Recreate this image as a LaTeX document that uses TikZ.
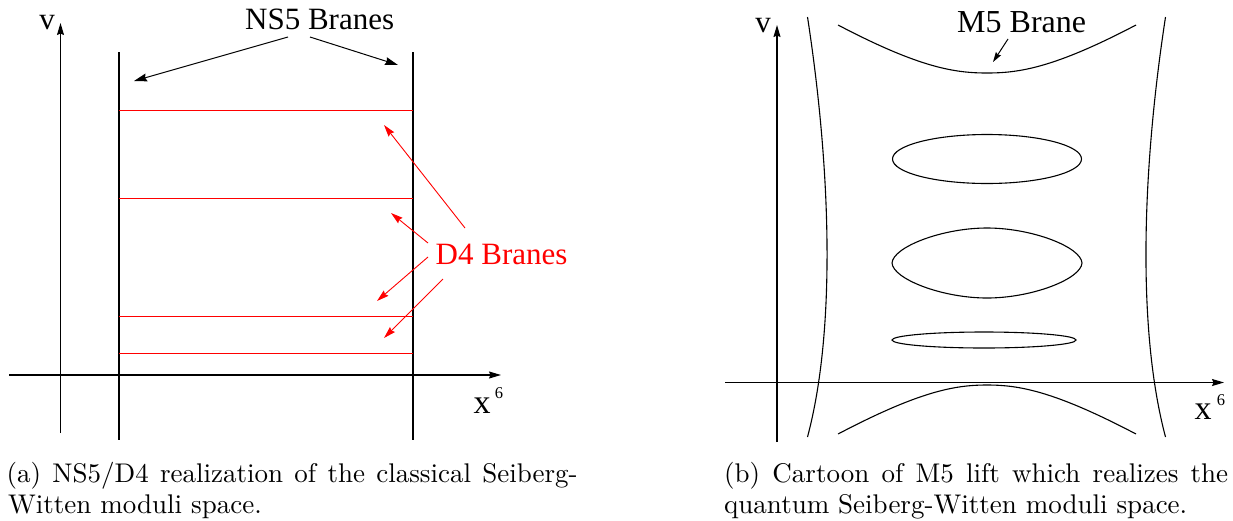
\documentclass[tikz,border=0pt]{standalone}
\usepackage{fontspec}
\newfontfamily\tms{Liberation Serif}
\newfontfamily\capfont{lmroman10-regular.otf}
\usetikzlibrary{arrows.meta}
\begin{document}
\begin{tikzpicture}[x=1pt,y=-1pt,
  axis/.style={line width=1.1pt,-{Stealth[length=12pt,width=7pt,inset=1.5pt]}},
  callout/.style={line width=1pt,-{Stealth[length=13pt,width=8pt,inset=1.5pt]}},
  redcallout/.style={red,line width=0.9pt,-{Stealth[length=12pt,width=7pt,inset=1.5pt]}},
  nsbrane/.style={line width=1.6pt},
  dbrane/.style={red,line width=1pt},
  mcurve/.style={line width=1.1pt},
  lbl/.style={font=\tms\fontsize{31}{31}\selectfont,inner sep=0pt},
  xlbl/.style={font=\tms\fontsize{34}{34}\selectfont,inner sep=0pt,anchor=base},
  suptext/.style={font=\tms\fontsize{16.5}{16.5}\selectfont,inner sep=0pt},
  captext/.style={font=\capfont\fontsize{27}{31}\selectfont,inner sep=0pt,anchor=base west}
]
\useasboundingbox (0,0) rectangle (1233,520);

% ---------------- left panel ----------------
\coordinate (lvb) at (60.5,433);
\coordinate (lvt) at (60.5,23);
\coordinate (lxa) at (9,375);
\coordinate (lxb) at (501,375);
\draw[axis] (lvb) -- (lvt);
\draw[axis] (lxa) -- (lxb);
\node[lbl,anchor=base] (lv) at (47,29) {v};
\node[xlbl] (lx) at (482,413) {x};
\node[suptext] (l6) at (499,393) {6};

\coordinate (ns1t) at (119,52); \coordinate (ns1b) at (119,440);
\coordinate (ns2t) at (413,52); \coordinate (ns2b) at (413,440);
\draw[nsbrane] (ns1t) -- (ns1b);
\draw[nsbrane] (ns2t) -- (ns2b);

\foreach \yy/\nm in {110/a,198/b,316/c,353/d}{
  \coordinate (d\nm l) at (119,\yy);
  \coordinate (d\nm r) at (413,\yy);
  \draw[dbrane] (d\nm l) -- (d\nm r);
}

\node[lbl,anchor=base west] (ns5) at (245,29) {NS5 Branes};
\coordinate (nsa1) at (288,37); \coordinate (nst1) at (134,81);
\coordinate (nsa2) at (310,37); \coordinate (nst2) at (398,65);
\draw[callout] (nsa1) -- (nst1);
\draw[callout] (nsa2) -- (nst2);

\node[lbl,anchor=base west,red] (d4) at (435.5,264) {D4 Branes};
\coordinate (r1s) at (465,228); \coordinate (r1t) at (384,125);
\coordinate (r2s) at (428,243); \coordinate (r2t) at (391,213);
\coordinate (r3s) at (428,257); \coordinate (r3t) at (377,301);
\coordinate (r4s) at (443,279); \coordinate (r4t) at (384,338);
\draw[redcallout] (r1s) -- (r1t);
\draw[redcallout] (r2s) -- (r2t);
\draw[redcallout] (r3s) -- (r3t);
\draw[redcallout] (r4s) -- (r4t);

% ---------------- right panel ----------------
\coordinate (rvb) at (777,442);
\coordinate (rvt) at (777,25);
\coordinate (rxa) at (725,382.5);
\coordinate (rxb) at (1224,382.5);
\draw[axis] (rvb) -- (rvt);
\draw[axis] (rxa) -- (rxb);
\node[lbl,anchor=base] (rv) at (763,32) {v};
\node[xlbl] (rx) at (1203,419) {x};
\node[suptext] (r6) at (1221,400) {6};

% side sheets
\draw[mcurve] (807.5,17) .. controls (831,170) and (836,330) .. (807.5,437);
\draw[mcurve] (1165.5,17) .. controls (1142,170) and (1137,330) .. (1165.5,437);

% top and bottom sheets
\draw[mcurve] (838,25) .. controls (920,68) and (955,73) .. (987,73) .. controls (1019,73) and (1054,68) .. (1136,25);
\draw[mcurve] (838,434) .. controls (920,391) and (955,385) .. (987,385) .. controls (1019,385) and (1054,391) .. (1136,434);

% tubes
\draw[mcurve] (987,159) ellipse [x radius=94.5, y radius=24.5];
\draw[mcurve] (892,263) .. controls (893,247) and (942,228) .. (987,228) .. controls (1032,228) and (1081,247) .. (1082,263) .. controls (1081,279) and (1032,298) .. (987,298) .. controls (942,298) and (893,279) .. (892,263) -- cycle;
\draw[mcurve] (984,340) ellipse [x radius=92, y radius=8];

\node[lbl,anchor=base west,font=\tms\fontsize{32}{32}\selectfont] (m5) at (957,32) {M5 Brane};
\coordinate (m5s) at (1008,39); \coordinate (m5t) at (993,62);
\draw[line width=1pt,-{Stealth[length=10pt,width=6pt,inset=1.2pt]}] (m5s) -- (m5t);

% ---------------- captions ----------------
\node[captext] (capa1) at (6.5,482) {\makebox[571pt][s]{(a) NS5/D4 realization of the classical Seiberg-}};
\node[captext] (capa2) at (8,513) {Witten moduli space.};
\node[captext] (capb1) at (724,482) {\makebox[504pt][s]{(b) Cartoon of M5 lift which realizes the}};
\node[captext] (capb2) at (724,513) {quantum Seiberg-Witten moduli space.};
\end{tikzpicture}
\end{document}
